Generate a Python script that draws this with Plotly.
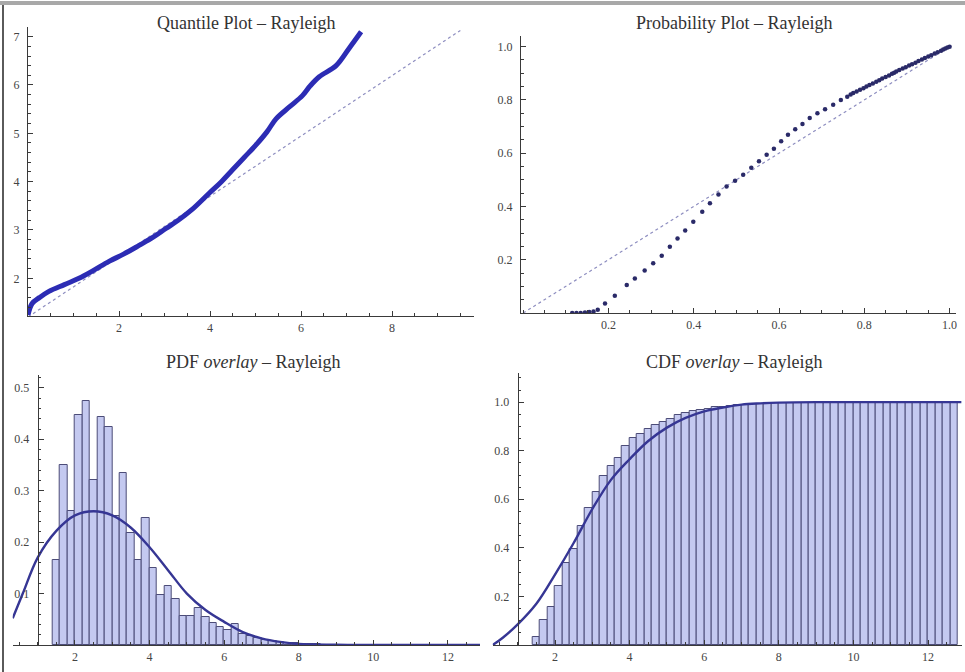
import plotly.graph_objects as go

W, H = 965, 672

# ---------------- data ----------------
# Quantile plot
q_x = [0.0, 0.09, 0.25, 0.46, 0.8, 1.12, 1.45, 1.78, 2.1, 2.44, 2.75, 3.03, 3.3, 3.6,
       3.98, 4.25, 4.49, 4.75, 5.0, 5.25, 5.45, 5.75, 6.03, 6.2, 6.4, 6.77, 7.05, 7.32]
q_y = [1.24, 1.48, 1.6, 1.73, 1.87, 2.0, 2.17, 2.35, 2.5, 2.68, 2.85, 3.03, 3.2, 3.42,
       3.76, 4.0, 4.24, 4.5, 4.75, 5.03, 5.3, 5.55, 5.78, 5.98, 6.17, 6.4, 6.75, 7.1]
q_ref_x = [0.0, 9.5]
q_ref_y = [1.2, 7.13]

# Probability plot
p_x = [0.115, 0.125, 0.135, 0.145, 0.155, 0.165, 0.175, 0.192, 0.215, 0.243, 0.262, 0.285,
       0.305, 0.325, 0.344, 0.362, 0.38, 0.399, 0.42, 0.438, 0.458, 0.477, 0.497, 0.516,
       0.535, 0.553, 0.571, 0.588, 0.605, 0.621, 0.638, 0.655, 0.672, 0.69, 0.708, 0.727,
       0.745, 0.76, 0.768, 0.774, 0.782, 0.79, 0.798, 0.805, 0.812, 0.82, 0.828, 0.835,
       0.842, 0.85, 0.858, 0.865, 0.87, 0.875, 0.882, 0.89, 0.897, 0.905, 0.912, 0.92,
       0.927, 0.935, 0.942, 0.95, 0.957, 0.965, 0.972, 0.98, 0.985, 0.99, 0.995, 1.0]
p_y = [0.0, 0.0, 0.0, 0.002, 0.004, 0.006, 0.012, 0.036, 0.065, 0.105, 0.13, 0.16,
       0.187, 0.215, 0.249, 0.28, 0.31, 0.343, 0.38, 0.412, 0.445, 0.475, 0.497, 0.519,
       0.545, 0.57, 0.594, 0.617, 0.645, 0.669, 0.69, 0.71, 0.732, 0.75, 0.765, 0.782,
       0.8, 0.812, 0.82, 0.826, 0.832, 0.838, 0.844, 0.85, 0.856, 0.862, 0.868, 0.874,
       0.88, 0.886, 0.892, 0.898, 0.902, 0.907, 0.912, 0.918, 0.923, 0.929, 0.934, 0.94,
       0.946, 0.952, 0.957, 0.963, 0.968, 0.974, 0.979, 0.985, 0.989, 0.993, 0.997, 1.0]
p_ref_x = [0.0, 1.0]
p_ref_y = [0.0, 1.0]

# Histogram bins (left edges, width 0.2)
bin_left = [1.4, 1.6, 1.8, 2.0, 2.2, 2.4, 2.6, 2.8, 3.0, 3.2, 3.4, 3.6, 3.8, 4.0, 4.2, 4.4,
            4.6, 4.8, 5.0, 5.2, 5.4, 5.6, 5.8, 6.0, 6.2, 6.4, 6.6, 6.8, 7.0, 7.2, 7.4, 7.6,
            7.8, 8.0, 8.2, 8.4, 8.6, 8.8, 9.0, 9.2, 9.4, 9.6, 9.8, 10.0, 10.2, 10.4, 10.6,
            10.8, 11.0, 11.2, 11.4, 11.6, 11.8, 12.0, 12.2, 12.4, 12.6]
bin_width = 0.2
pdf_hist = [0.165, 0.35, 0.26, 0.447, 0.475, 0.32, 0.443, 0.423, 0.25, 0.334, 0.217, 0.165,
            0.247, 0.15, 0.097, 0.115, 0.09, 0.057, 0.057, 0.072, 0.055, 0.043, 0.035, 0.03,
            0.04, 0.022, 0.018, 0.014, 0.01, 0.007, 0.005, 0.004, 0.003, 0.002, 0.002, 0.001,
            0, 0, 0, 0, 0, 0, 0, 0, 0, 0, 0, 0, 0, 0, 0, 0, 0, 0, 0, 0, 0]
cdf_hist = [0.033, 0.103, 0.155, 0.244, 0.339, 0.395, 0.49, 0.565, 0.629, 0.695, 0.739, 0.772,
            0.821, 0.851, 0.868, 0.89, 0.905, 0.918, 0.93, 0.946, 0.955, 0.962, 0.968, 0.973,
            0.978, 0.982, 0.985, 0.988, 0.99, 0.992, 0.993, 0.994, 0.995, 0.995, 0.995, 0.995,
            0.995, 0.995, 0.995, 0.995, 0.995, 0.995, 0.995, 0.995, 0.995, 0.995, 0.995,
            0.995, 0.995, 0.995, 0.995, 0.995, 0.995, 0.995, 0.995, 0.995, 0.995]

# Fitted curves
pdf_x = [0.33, 0.6, 1.0, 1.5, 2.0, 2.5, 3.0, 3.5, 4.0, 4.5, 5.0, 5.5, 6.0, 6.5, 7.0, 7.5,
         8.0, 9.0, 10.0, 12.86]
pdf_y = [0.052, 0.1, 0.17, 0.222, 0.252, 0.26, 0.252, 0.228, 0.19, 0.145, 0.1, 0.068,
         0.045, 0.025, 0.013, 0.006, 0.002, 0.0005, 0.0, 0.0]
cdf_x = [0.33, 0.6, 1.0, 1.5, 2.0, 2.5, 3.0, 3.5, 4.0, 4.5, 5.0, 5.5, 6.0, 6.5, 7.0, 7.5,
         8.0, 9.0, 10.0, 12.9]
cdf_y = [0.0, 0.03, 0.085, 0.17, 0.29, 0.42, 0.56, 0.68, 0.765, 0.84, 0.895, 0.935, 0.962,
         0.978, 0.99, 0.995, 0.998, 1.0, 1.0, 1.0]

titles = ["Quantile Plot – Rayleigh", "Probability Plot – Rayleigh",
          "PDF <i>overlay</i> – Rayleigh", "CDF <i>overlay</i> – Rayleigh"]

# ---------------- style ----------------
FONT = "Liberation Serif"
AX = "#3a3a3a"
CURVE = "#363694"
QBLUE = "#2c2cb4"
DOT = "#2a2a68"
REF = "#8e8ec0"
BAR_FILL = "#c4c9f0"
BAR_EDGE = "#4c4c78"

fig = go.Figure()

# Quantile plot
fig.add_trace(go.Scatter(x=q_ref_x, y=q_ref_y, mode="lines", xaxis="x", yaxis="y",
                         line=dict(color=REF, width=1.2, dash="dot"), hoverinfo="skip"))
fig.add_trace(go.Scatter(x=q_x, y=q_y, mode="lines", xaxis="x", yaxis="y",
                         line=dict(color=QBLUE, width=5, shape="spline")))

# Probability plot
fig.add_trace(go.Scatter(x=p_ref_x, y=p_ref_y, mode="lines", xaxis="x2", yaxis="y2",
                         line=dict(color=REF, width=1.2, dash="dot"), hoverinfo="skip"))
fig.add_trace(go.Scatter(x=p_x, y=p_y, mode="markers", xaxis="x2", yaxis="y2",
                         marker=dict(color=DOT, size=4.5)))

# PDF overlay
fig.add_trace(go.Bar(x=bin_left, y=pdf_hist, width=bin_width, offset=0, xaxis="x3", yaxis="y3",
                     marker=dict(color=BAR_FILL, line=dict(color=BAR_EDGE, width=1))))
fig.add_trace(go.Scatter(x=pdf_x, y=pdf_y, mode="lines", xaxis="x3", yaxis="y3",
                         line=dict(color=CURVE, width=2.4, shape="spline")))

# CDF overlay
fig.add_trace(go.Bar(x=bin_left, y=cdf_hist, width=bin_width, offset=0, xaxis="x4", yaxis="y4",
                     marker=dict(color=BAR_FILL, line=dict(color=BAR_EDGE, width=1))))
fig.add_trace(go.Scatter(x=cdf_x, y=cdf_y, mode="lines", xaxis="x4", yaxis="y4",
                         line=dict(color=CURVE, width=2.4, shape="spline")))


def px_x(p):
    return p / W


def px_y(p):
    return 1 - p / H


def axis(domain, rng, tickvals, ticktext, minor_dtick, minor_tick0=0, **kw):
    d = dict(domain=domain, range=rng, showgrid=False, zeroline=False,
             showline=True, linecolor=AX, linewidth=1.2,
             ticks="inside", ticklen=5, tickwidth=1, tickcolor=AX,
             tickmode="array", tickvals=tickvals, ticktext=ticktext,
             tickfont=dict(family=FONT, size=12, color="#444444"),
             minor=dict(ticks="inside", ticklen=2.5, tickwidth=1, tickcolor=AX,
                        tickmode="linear", tick0=minor_tick0, dtick=minor_dtick),
             fixedrange=True)
    d.update(kw)
    return d


layout = dict(
    width=W, height=H, margin=dict(l=0, r=0, t=0, b=0),
    paper_bgcolor="white", plot_bgcolor="white", showlegend=False, bargap=0,
    barmode="overlay",
)

# Top-left: quantile
layout["xaxis"] = axis([px_x(28), px_x(474)], [0, 9.8], [2, 4, 6, 8], ["2", "4", "6", "8"], 0.5,
                       anchor="y")
layout["yaxis"] = axis([px_y(316), px_y(27)], [1.22, 7.2], [2, 3, 4, 5, 6, 7],
                       ["2", "3", "4", "5", "6", "7"], 0.2, anchor="x", ticklabelstandoff=5)
# Top-right: probability
pt = [0.2, 0.4, 0.6, 0.8, 1.0]
ptt = ["0.2", "0.4", "0.6", "0.8", "1.0"]
layout["xaxis2"] = axis([px_x(521), px_x(956)], [-0.005, 1.015], pt, ptt, 0.05, anchor="y2")
layout["yaxis2"] = axis([px_y(313), px_y(36)], [0, 1.04], pt, ptt, 0.05, anchor="x2",
                        ticklabelstandoff=5)
# Bottom-left: PDF
xt = [2, 4, 6, 8, 10, 12]
xtt = ["2", "4", "6", "8", "10", "12"]
layout["xaxis3"] = axis([px_x(12.7), px_x(480)], [0.33, 12.86], xt, xtt, 0.5, anchor="y3")
layout["yaxis3"] = axis([px_y(645), px_y(375)], [0, 0.525], [0.1, 0.2, 0.3, 0.4, 0.5],
                        ["0.1", "0.2", "0.3", "0.4", "0.5"], 0.02,
                        anchor="free", position=px_x(37.7), ticklabelstandoff=6)
# Bottom-right: CDF
layout["xaxis4"] = axis([px_x(492.7), px_x(961.6)], [0.33, 12.9], xt, xtt, 0.5, anchor="y4")
layout["yaxis4"] = axis([px_y(645), px_y(373)], [0, 1.12], pt, ptt, 0.05,
                        anchor="free", position=px_x(517.7), ticklabelstandoff=6)

fig.update_layout(**layout)

# Titles
title_pos = [(246, 23), (734, 23), (253, 362), (734, 362)]
for t, (tx, ty) in zip(titles, title_pos):
    fig.add_annotation(text=t, x=px_x(tx), y=px_y(ty), xref="paper", yref="paper",
                       showarrow=False, xanchor="center", yanchor="middle",
                       font=dict(family=FONT, size=18, color="#333333"))

# Window frame (screenshot border)
fig.add_shape(type="rect", xref="paper", yref="paper", x0=0, x1=1, y0=px_y(5), y1=px_y(1),
              fillcolor="#a8a8a8", line=dict(width=0), layer="above")
fig.add_shape(type="rect", xref="paper", yref="paper", x0=px_x(2), x1=px_x(4), y0=0, y1=px_y(5),
              fillcolor="#5a5a5a", line=dict(width=0), layer="above")

fig.write_html("out.html")
